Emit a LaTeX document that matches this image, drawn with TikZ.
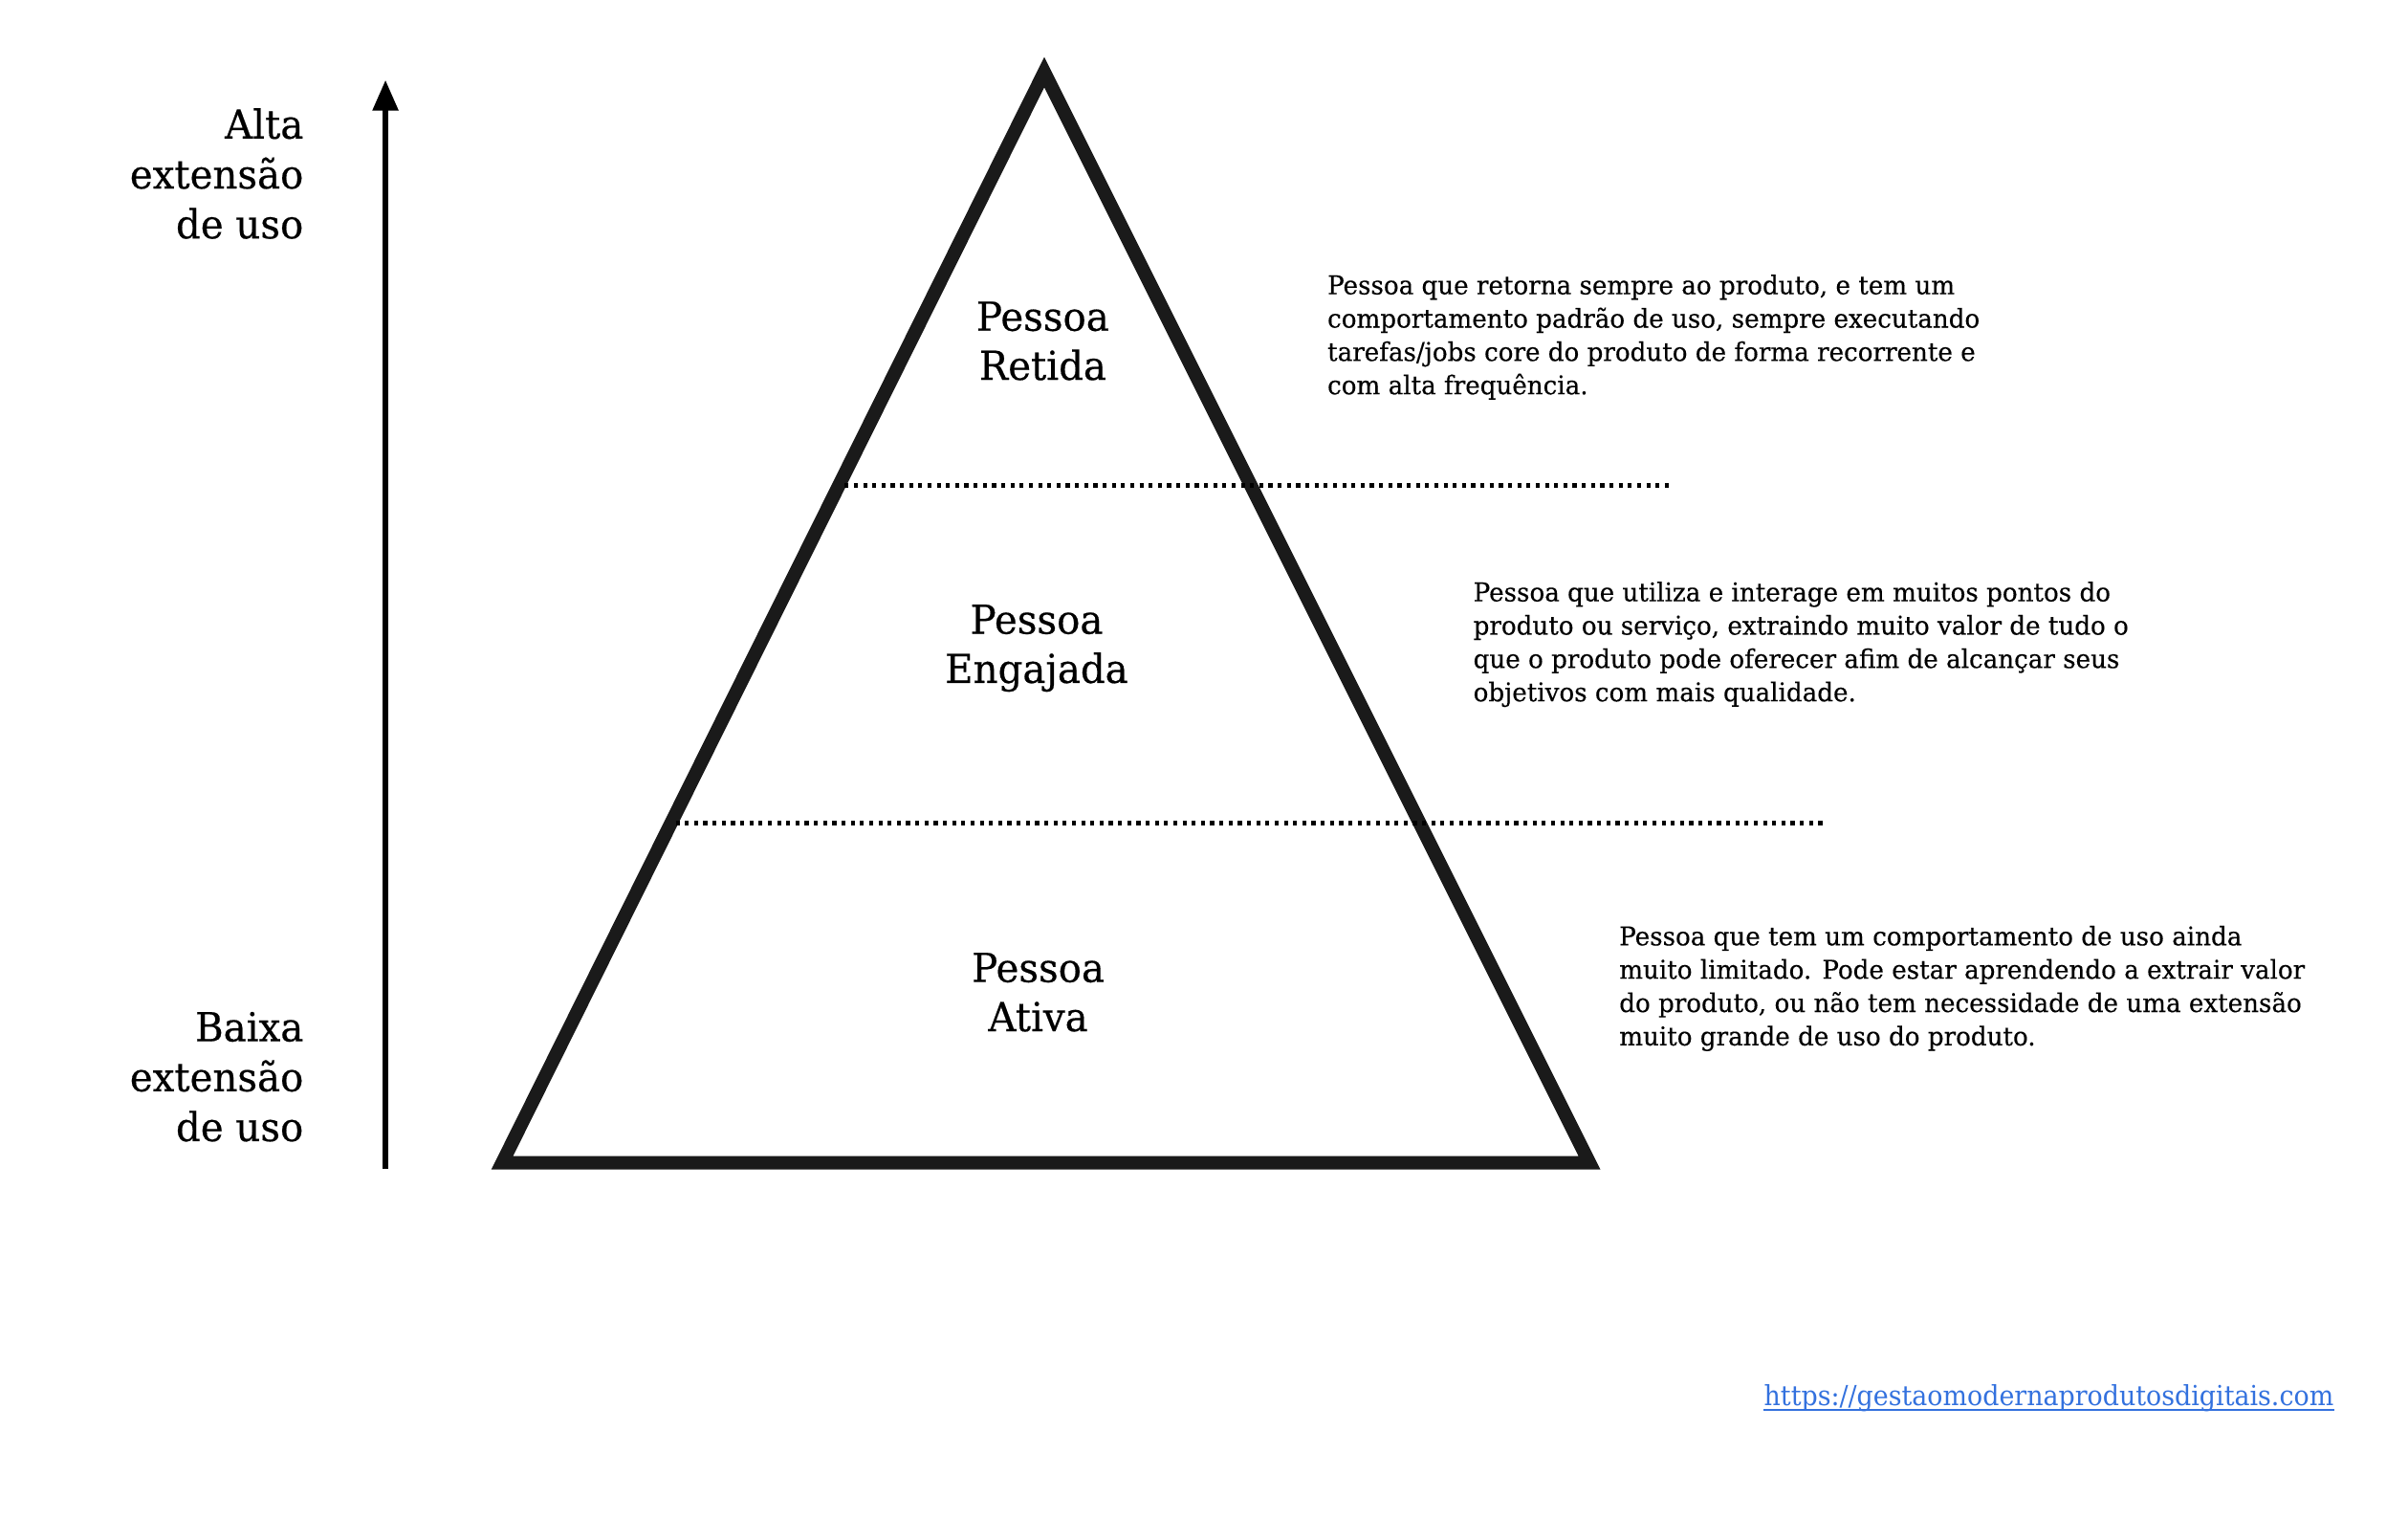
\documentclass[tikz,border=0pt]{standalone}
\usepackage{fontspec}
\setmainfont{DejaVu Serif}
\newfontfamily\headfont[FakeStretch=0.965,FakeBold=0.4]{DejaVu Serif}
\newfontfamily\bodyfont[FakeStretch=0.97,FakeBold=0.3]{DejaVu Serif}
\newfontfamily\linkfont[FakeStretch=0.93]{DejaVu Serif}
\usetikzlibrary{arrows.meta}
\definecolor{ink}{RGB}{26,26,26}
\definecolor{linkblue}{RGB}{51,113,222}
\begin{document}
\begin{tikzpicture}[x=0.5pt,y=-0.5pt,
  axislabel/.style={align=right,anchor=east,inner sep=0pt,
    font=\headfont\fontsize{13}{16.25}\selectfont},
  tierlabel/.style={align=center,inner sep=0pt,
    font=\headfont\fontsize{13}{16}\selectfont},
  desc/.style={align=left,anchor=west,inner sep=0pt,
    font=\bodyfont\fontsize{8.4}{10.85}\selectfont},
  divider/.style={line width=1.5pt,dash pattern=on 1.3pt off 1.7pt,black},
  pyramid/.style={line width=4.4pt,ink,miter limit=20}]
\useasboundingbox (0,0) rectangle (1568,988);

% pyramid outline
\coordinate (apex) at (680,47);
\coordinate (bl) at (327,757);
\coordinate (br) at (1035,757);
\draw[pyramid] (apex) -- (br) -- (bl) -- cycle;

% tier dividers, running out to the descriptions
\coordinate (d1a) at (550,316);
\coordinate (d1b) at (1088,316);
\coordinate (d2a) at (440,536);
\coordinate (d2b) at (1188,536);
\draw[divider] (d1a) -- (d1b);
\draw[divider] (d2a) -- (d2b);

% vertical axis
\coordinate (axbot) at (251,761);
\coordinate (axtop) at (251,52);
\draw[line width=2pt,-{Triangle[length=10pt,width=8pt]}] (axbot) -- (axtop);

\node[axislabel] (high) at (198,113) {Alta\\extensão\\de uso};
\node[axislabel] (low) at (198,701) {Baixa\\extensão\\de uso};

% tier names
\node[tierlabel] (retida) at (679,222) {Pessoa\\Retida};
\node[tierlabel] (engajada) at (675,422) {Pessoa\\Engajada};
\node[tierlabel] (ativa) at (676,646) {Pessoa\\Ativa};

% tier descriptions
\node[desc] (dretida) at (864,219.5) {Pessoa que retorna sempre ao produto, e tem um\\comportamento padrão de uso, sempre executando\\tarefas/jobs core do produto de forma recorrente e\\com alta frequência.};
\node[desc] (dengajada) at (959,419.5) {Pessoa que utiliza e interage em muitos pontos do\\produto ou serviço, extraindo muito valor de tudo o\\que o produto pode oferecer afim de alcançar seus\\objetivos com mais qualidade.};
\node[desc] (dativa) at (1054,643.5) {Pessoa que tem um comportamento de uso ainda\\muito limitado. Pode estar aprendendo a extrair valor\\do produto, ou não tem necessidade de uma extensão\\muito grande de uso do produto.};

% source link with its underline
\node[anchor=east,inner sep=0pt,text=linkblue,font=\linkfont\fontsize{9}{11}\selectfont] (url) at (1520,910)
  {https://gestaomodernaprodutosdigitais.com};
\draw[linkblue,line width=0.5pt] ([yshift=-1.6pt]url.base west) -- ([yshift=-1.6pt]url.base east);
\end{tikzpicture}
\end{document}
